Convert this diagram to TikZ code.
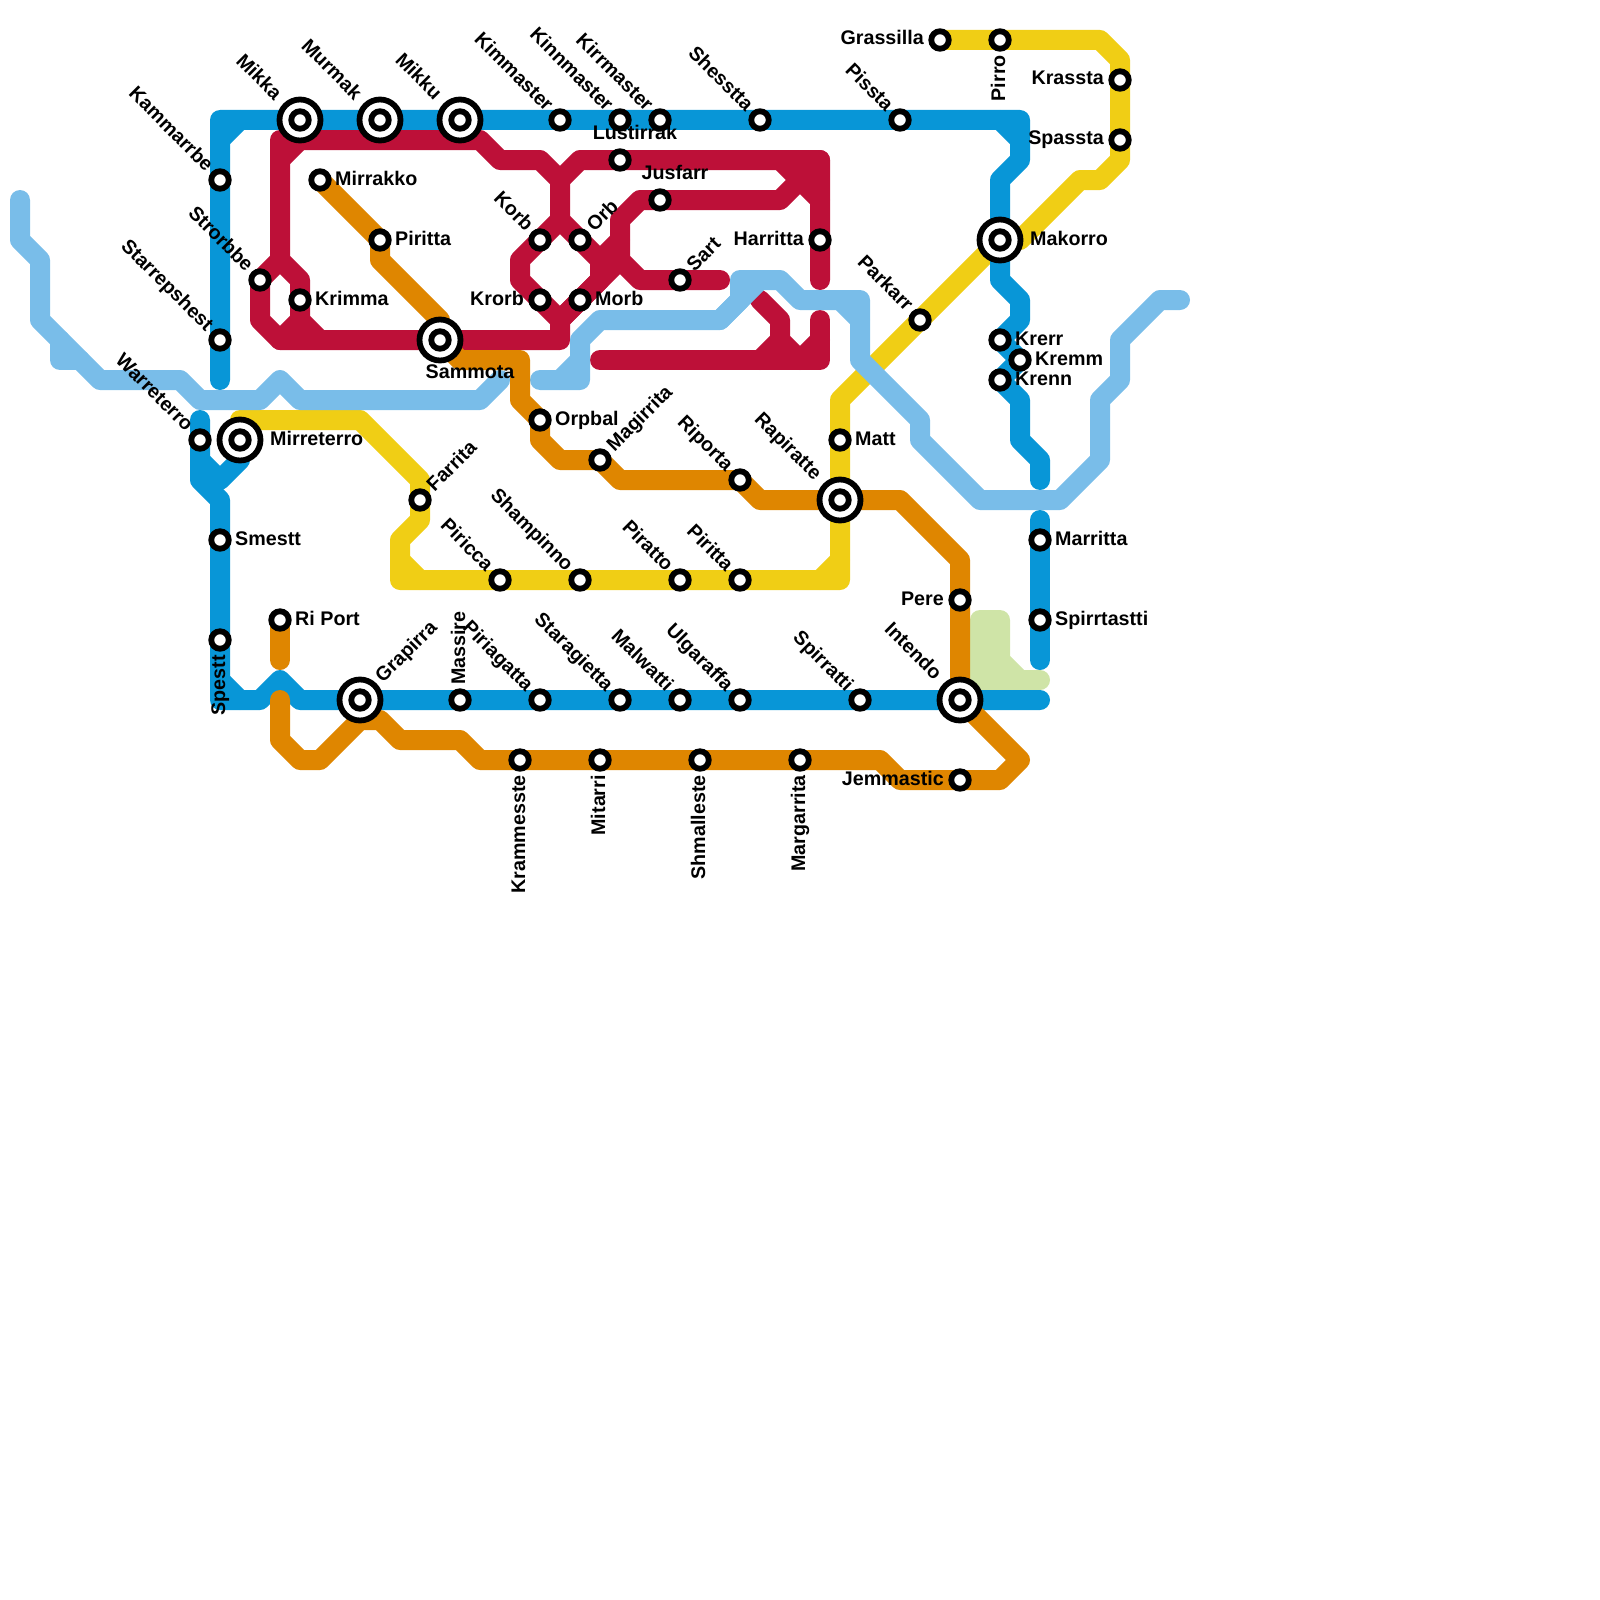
\documentclass[tikz,border=0pt]{standalone}
\usepackage{fontspec}
\setmainfont{Liberation Sans}
\definecolor{lnblue}{HTML}{0896D7}
\definecolor{lnred}{HTML}{BD1038}
\definecolor{lnorange}{HTML}{DF8600}
\definecolor{lnyellow}{HTML}{F0CE15}
\definecolor{lnlight}{HTML}{79BDE9}
\definecolor{lngreen}{HTML}{CFE4A7}
\tikzset{
  rail/.style={line width=20pt,line cap=round,line join=round},
  blueline/.style={rail,draw=lnblue},
  redline/.style={rail,draw=lnred},
  orangeline/.style={rail,draw=lnorange},
  yellowline/.style={rail,draw=lnyellow},
  lightline/.style={rail,draw=lnlight},
  greenline/.style={rail,draw=lngreen,fill=lngreen},
  stn/.style={circle,draw=black,fill=white,line width=5.8pt,minimum size=17.5pt,inner sep=0pt},
  hub/.style={circle,draw=black,fill=white,line width=5.8pt,minimum size=41pt,inner sep=0pt},
  lbl/.style={font=\fontsize{19.7}{22}\selectfont\bfseries,inner sep=0pt,text height=14pt,text depth=0pt,text=black},
  lblE/.style={xshift=15pt,yshift=2pt,lbl,anchor=west},
  lblW/.style={xshift=-16pt,yshift=2pt,lbl,anchor=east},
  lblNW/.style={xshift=-9.5pt,yshift=12.5pt,lbl,rotate=-45,anchor=east},
  lblNE/.style={xshift=9.5pt,yshift=12.5pt,lbl,rotate=45,anchor=west},
  lblU/.style={xshift=-2pt,yshift=15pt,lbl,rotate=90,anchor=west},
  lblD/.style={xshift=-2pt,yshift=-15pt,lbl,rotate=90,anchor=east},
  lblN/.style={xshift=15pt,yshift=20pt,lbl,anchor=south},
  hubNW/.style={xshift=-11.5pt,yshift=11.5pt,lblNW},
  hubNE/.style={xshift=8.5pt,yshift=8.5pt,lblNE},
  hubE/.style={xshift=15pt,lblE},
}
\newcommand{\stat}[4]{%
  \node[stn] (#1) at (#2) {};
  \node[#4] (#1L) at (#1.center) {#3};}
\begin{document}
\begin{tikzpicture}[x=1pt,y=-1pt]
\useasboundingbox (0,0) rectangle (1600,1600);
% green
\draw[greenline] (980,620) -- (1000,620) -- (1000,660) -- (1020,680) -- (1040,680) -- (980,680) -- cycle;
% yellow
\draw[yellowline] (940,40) -- (1100,40) -- (1120,60) -- (1120,160) -- (1100,180) -- (1080,180) -- (1020,240) -- (1000,240) -- (840,400) -- (840,580) -- (400,580) -- (400,540) -- (420,520) -- (420,480) -- (360,420) -- (240,420);
\draw[yellowline] (400,560) -- (420,580);
\draw[yellowline] (820,580) -- (840,560);
% red
\draw[redline] (280,260) -- (280,140) -- (480,140) -- (500,160) -- (540,160) -- (560,180) -- (560,220) -- (520,260) -- (520,280) -- (560,320) -- (560,340) -- (280,340) -- (260,320) -- (260,280) -- (280,260) -- (300,280) -- (300,320) -- (320,340);
\draw[redline] (280,160) -- (300,140);
\draw[redline] (300,320) -- (280,340);
\draw[redline] (560,220) -- (600,260) -- (600,280) -- (560,320);
\draw[redline] (560,180) -- (580,160) -- (820,160) -- (820,280);
\draw[redline] (780,160) -- (800,180) -- (820,200);
\draw[redline] (820,160) -- (780,200) -- (640,200) -- (620,220) -- (620,260) -- (640,280) -- (720,280);
\draw[redline] (620,260) -- (560,320);
\draw[redline] (620,240) -- (600,260);
\draw[redline] (600,360) -- (820,360) -- (820,320);
\draw[redline] (760,300) -- (780,320) -- (780,340) -- (800,360) -- (820,340);
\draw[redline] (780,340) -- (760,360);
% light blue
\draw[lightline] (20,200) -- (20,240) -- (40,260) -- (40,320) -- (100,380) -- (180,380) -- (200,400) -- (260,400) -- (280,380) -- (300,400) -- (480,400) -- (500,380);
\draw[lightline] (60,340) -- (60,360) -- (80,360);
\draw[lightline] (540,380) -- (580,380) -- (580,340) -- (600,320) -- (720,320) -- (760,280) -- (780,280) -- (800,300) -- (860,300) -- (860,360) -- (920,420) -- (920,440) -- (980,500) -- (1060,500) -- (1100,460) -- (1100,400) -- (1120,380) -- (1120,340) -- (1160,300) -- (1180,300);
\draw[lightline] (560,380) -- (580,360);
\draw[lightline] (720,320) -- (740,300) -- (740,280) -- (760,280);
\draw[lightline] (840,300) -- (860,320);
% blue
\draw[blueline] (220,380) -- (220,120) -- (1020,120) -- (1020,160) -- (1000,180) -- (1000,280) -- (1020,300) -- (1020,320) -- (1000,340) -- (1020,360) -- (1000,380) -- (1020,400) -- (1020,440) -- (1040,460) -- (1040,480);
\draw[blueline] (220,140) -- (240,120);
\draw[blueline] (1000,120) -- (1020,140);
\draw[blueline] (200,420) -- (200,480) -- (220,500) -- (220,700) -- (260,700) -- (280,680) -- (300,700) -- (1040,700);
\draw[blueline] (220,680) -- (240,700);
\draw[blueline] (200,460) -- (220,480) -- (240,460);
\draw[blueline] (1040,520) -- (1040,660);
% orange
\draw[orangeline] (320,180) -- (380,240) -- (380,260) -- (440,320) -- (440,340) -- (460,360) -- (520,360) -- (520,400) -- (540,420) -- (540,440) -- (560,460) -- (600,460) -- (620,480) -- (740,480) -- (760,500) -- (900,500) -- (960,560) -- (960,700) -- (1020,760) -- (1000,780) -- (900,780) -- (880,760) -- (480,760) -- (460,740) -- (400,740) -- (380,720) -- (360,720) -- (320,760) -- (300,760) -- (280,740) -- (280,700);
\draw[orangeline] (280,620) -- (280,660);
% interchanges: outer ring
\node[hub] (h1) at (300,120) {}; \node[hub] (h2) at (380,120) {}; \node[hub] (h3) at (460,120) {};
\node[hub] (h4) at (440,340) {}; \node[hub] (h5) at (240,440) {}; \node[hub] (h6) at (1000,240) {};
\node[hub] (h7) at (840,500) {}; \node[hub] (h8) at (360,700) {}; \node[hub] (h9) at (960,700) {};
% stations with labels
\stat{mikka}{300,120}{Mikka}{hubNW}
\stat{murmak}{380,120}{Murmak}{hubNW}
\stat{mikku}{460,120}{Mikku}{hubNW}
\stat{sammota}{440,340}{Sammota}{xshift=30pt,yshift=-39pt,lbl,anchor=south}
\stat{mirret}{240,440}{Mirreterro}{hubE}
\stat{makorro}{1000,240}{Makorro}{hubE}
\stat{rapir}{840,500}{Rapiratte}{hubNW}
\stat{grapirra}{360,700}{Grapirra}{hubNE}
\stat{intendo}{960,700}{Intendo}{hubNW}
\stat{kammar}{220,180}{Kammarrbe}{lblNW}
\stat{strorb}{260,280}{Strorbbe}{lblNW}
\stat{starrep}{220,340}{Starrepshest}{lblNW}
\stat{warret}{200,440}{Warreterro}{lblNW}
\stat{mirrak}{320,180}{Mirrakko}{lblE}
\stat{piritA}{380,240}{Piritta}{lblE}
\stat{krimma}{300,300}{Krimma}{lblE}
\stat{korb}{540,240}{Korb}{lblNW}
\stat{orb}{580,240}{Orb}{lblNE}
\stat{krorb}{540,300}{Krorb}{lblW}
\stat{morb}{580,300}{Morb}{lblE}
\stat{kimm}{560,120}{Kimmaster}{lblNW}
\stat{kinn}{620,120}{Kinnmaster}{lblNW}
\stat{kirr}{660,120}{Kirrmaster}{lblNW}
\stat{shess}{760,120}{Shesstta}{lblNW}
\stat{lust}{620,160}{Lustirrak}{lblN}
\stat{jus}{660,200}{Jusfarr}{lblN}
\stat{sart}{680,280}{Sart}{lblNE}
\stat{harr}{820,240}{Harritta}{lblW}
\stat{pissta}{900,120}{Pissta}{lblNW}
\stat{pirro}{1000,40}{Pirro}{lblD}
\stat{grass}{940,40}{Grassilla}{lblW}
\stat{krass}{1120,80}{Krassta}{lblW}
\stat{spass}{1120,140}{Spassta}{lblW}
\stat{park}{920,320}{Parkarr}{lblNW}
\stat{krerr}{1000,340}{Krerr}{lblE}
\stat{krenn}{1000,380}{Krenn}{lblE}
\stat{kremm}{1020,360}{Kremm}{lblE}
\stat{matt}{840,440}{Matt}{lblE}
\stat{orpbal}{540,420}{Orpbal}{lblE}
\stat{magir}{600,460}{Magirrita}{lblNE}
\stat{ripor}{740,480}{Riporta}{lblNW}
\stat{farr}{420,500}{Farrita}{lblNE}
\stat{piric}{500,580}{Piricca}{lblNW}
\stat{shamp}{580,580}{Shampinno}{lblNW}
\stat{pirat}{680,580}{Piratto}{lblNW}
\stat{piritB}{740,580}{Piritta}{lblNW}
\stat{smestt}{220,540}{Smestt}{lblE}
\stat{spestt}{220,640}{Spestt}{lblD}
\stat{riport}{280,620}{Ri Port}{lblE}
\stat{massire}{460,700}{Massire}{lblU}
\stat{piriag}{540,700}{Piriagatta}{lblNW}
\stat{starag}{620,700}{Staragietta}{lblNW}
\stat{malw}{680,700}{Malwatti}{lblNW}
\stat{ulgar}{740,700}{Ulgaraffa}{lblNW}
\stat{spirrat}{860,700}{Spirratti}{lblNW}
\stat{pere}{960,600}{Pere}{lblW}
\stat{jemm}{960,780}{Jemmastic}{lblW}
\stat{marr}{1040,540}{Marritta}{lblE}
\stat{spirrt}{1040,620}{Spirrtastti}{lblE}
\stat{kramm}{520,760}{Krammesste}{lblD}
\stat{mitar}{600,760}{Mitarri}{lblD}
\stat{shmal}{700,760}{Shmalleste}{lblD}
\stat{margar}{800,760}{Margarrita}{lblD}
\end{tikzpicture}
\end{document}
